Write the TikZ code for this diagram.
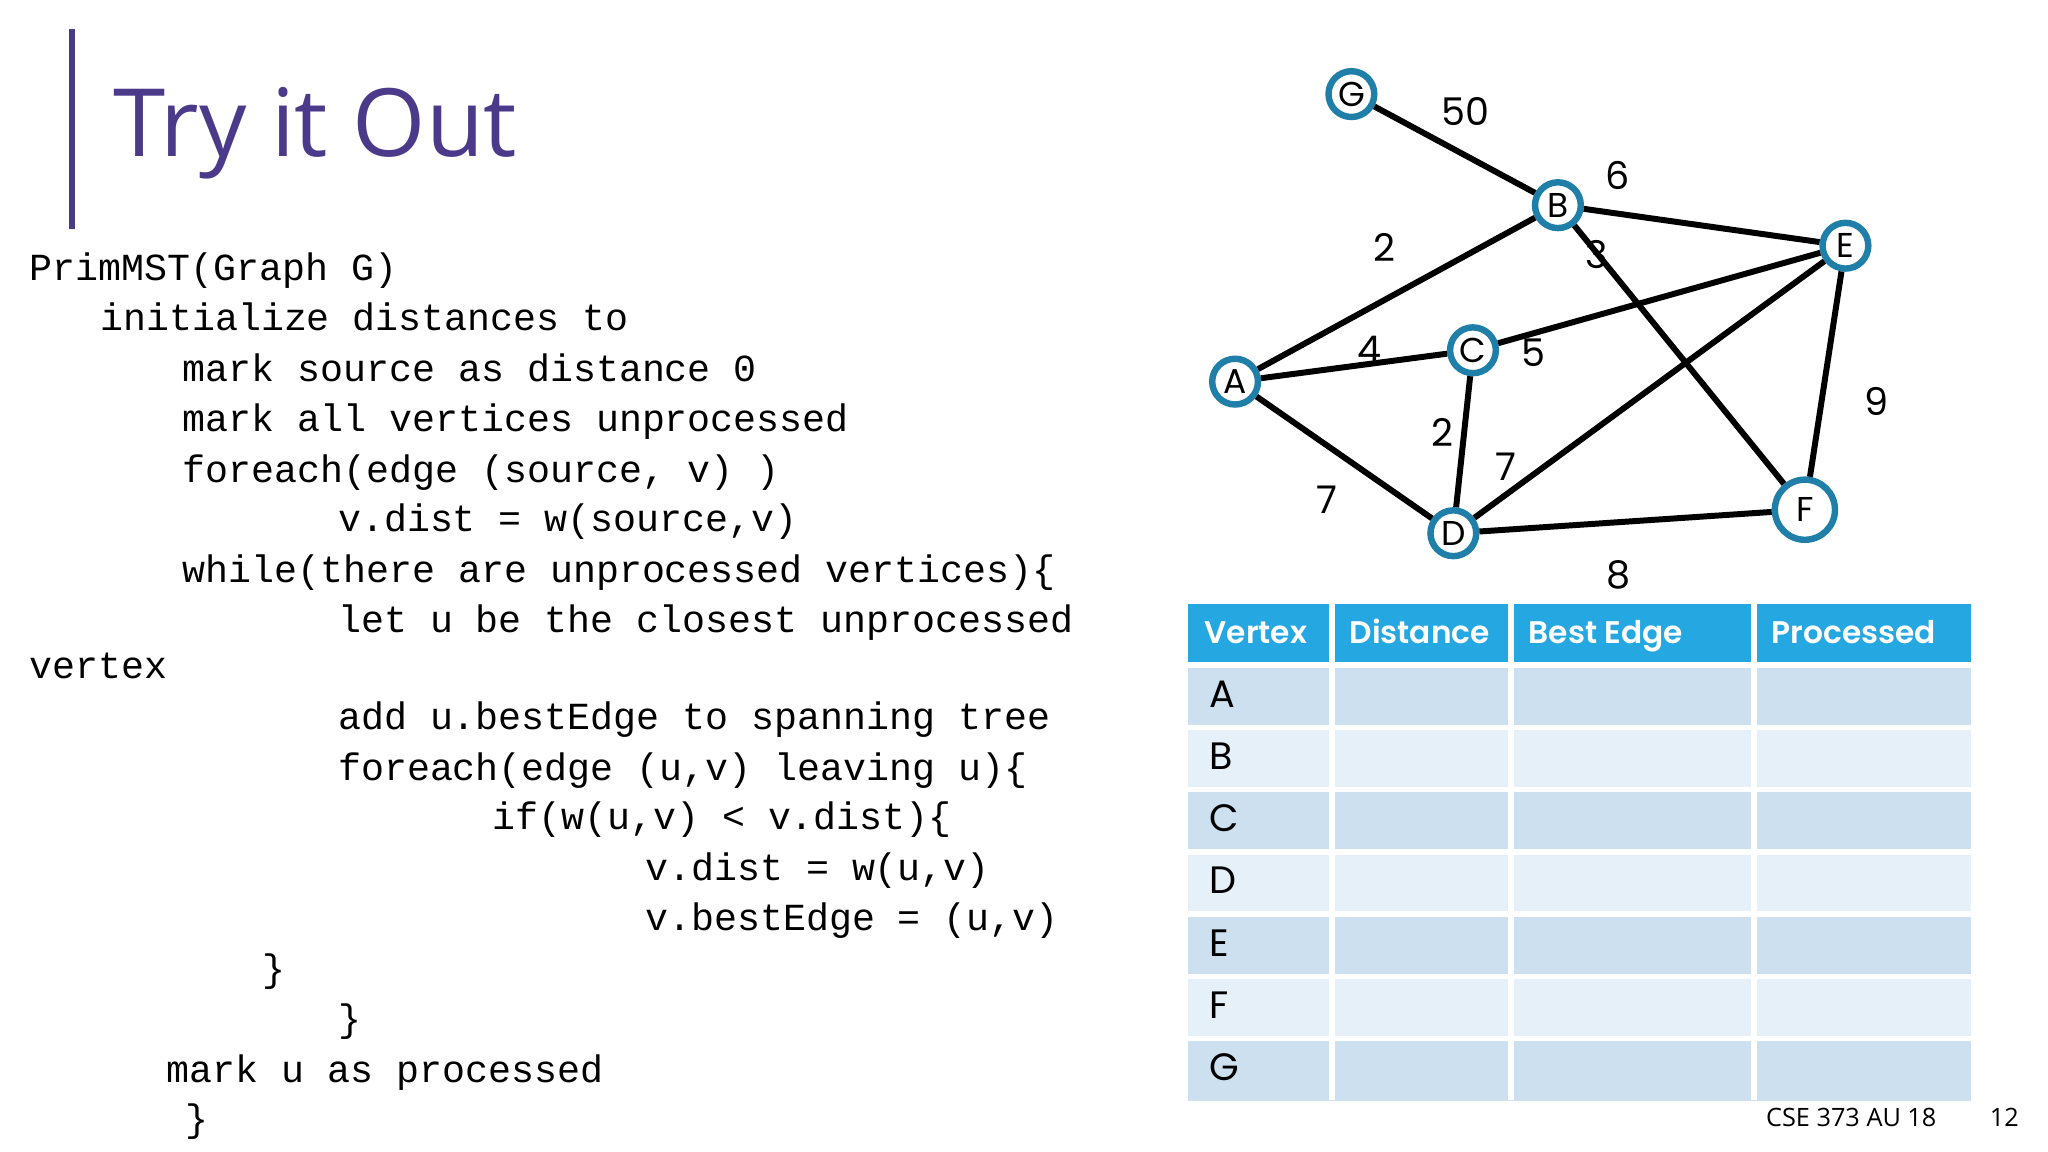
\documentclass[tikz,border=0pt]{standalone}
\usepackage{fontspec}
\setmainfont{Open Sans}
\setmonofont{Liberation Mono}
\newfontfamily\geo{Poppins}
\newfontfamily\geosb{Poppins SemiBold}
\definecolor{titlepurple}{HTML}{4B3A8A}
\definecolor{nodeblue}{HTML}{1F7FA8}
\definecolor{headcyan}{HTML}{25A7E1}
\definecolor{rowa}{HTML}{CCE0F0}
\definecolor{rowb}{HTML}{E6F0F8}
\begin{document}
\begin{tikzpicture}[x=0.01cm,y=-0.01cm,
  vtx/.style={circle,draw=nodeblue,line width=1.4pt,fill=white,minimum size=0.35cm,inner sep=0pt,font=\geo\fontsize{7.5}{9}\selectfont},
  edge/.style={line width=1.3pt,black},
  wlab/.style={font=\geo\fontsize{8.3}{10}\selectfont},
  code/.style={anchor=base west,inner sep=0pt,font=\ttfamily\fontsize{8.33}{10}\selectfont},
  hdr/.style={anchor=base west,inner sep=0pt,text=white,font=\geosb\fontsize{6.8}{10}\selectfont},
  rl/.style={anchor=west,font=\geo\fontsize{8.3}{10}\selectfont}]
\useasboundingbox (0,0) rectangle (1567,881.4);
\fill[white] (0,0) rectangle (1567,881.4);
% title
\draw[titlepurple,line width=1.2pt] (55,22) -- (55,175);
\node[anchor=base west,inner sep=0pt,text=titlepurple,font=\fontsize{20.5}{24}\selectfont] (title) at (86,120) {Try it Out};
% code
\node[code] (c1) at (22,215) {PrimMST(Graph G)};
\node[code] (c2) at (76,253) {initialize distances to};
\node[code] (c3) at (139,292) {mark source as distance 0};
\node[code] (c4) at (139,330) {mark all vertices unprocessed};
\node[code] (c5) at (139,369) {foreach(edge (source, v) )};
\node[code] (c6) at (258,407) {v.dist = w(source,v)};
\node[code] (c7) at (139,446) {while(there are unprocessed vertices)\{};
\node[code] (c8) at (258,484) {let u be the closest unprocessed};
\node[code] (c9) at (22,519) {vertex};
\node[code] (c10) at (258,558) {add u.bestEdge to spanning tree};
\node[code] (c11) at (258,597) {foreach(edge (u,v) leaving u)\{};
\node[code] (c12) at (376,635) {if(w(u,v) < v.dist)\{};
\node[code] (c13) at (493,674) {v.dist = w(u,v)};
\node[code] (c14) at (493,712) {v.bestEdge = (u,v)};
\node[code] (c15) at (200,751) {\}};
\node[code] (c16) at (258,789) {\}};
\node[code] (c17) at (127,828) {mark u as processed};
\node[code] (c18) at (141,866) {\}};
% graph
\node[vtx] (G) at (1034,72) {G};
\node[vtx] (B) at (1192,157) {B};
\node[vtx] (E) at (1412,188) {E};
\node[vtx] (A) at (945,292) {A};
\node[vtx] (C) at (1127,268) {C};
\node[vtx] (D) at (1112,408) {D};
\node[vtx,minimum size=0.46cm] (F) at (1381,390) {F};
\draw[edge] (G) -- (B);
\draw[edge] (B) -- (E);
\draw[edge] (B) -- (A);
\draw[edge] (B) -- (F);
\draw[edge] (A) -- (C);
\draw[edge] (C) -- (E);
\draw[edge] (A) -- (D);
\draw[edge] (C) -- (D);
\draw[edge] (D) -- (E);
\draw[edge] (D) -- (F);
\draw[edge] (E) -- (F);
\node[wlab] (w1) at (1121,85) {50};
\node[wlab] (w2) at (1238,134) {6};
\node[wlab] (w3) at (1059,189) {2};
\node[wlab] (w4) at (1222,195) {3};
\node[wlab] (w5) at (1048,268) {4};
\node[wlab] (w6) at (1173,270) {5};
\node[wlab] (w7) at (1436,307) {9};
\node[wlab] (w8) at (1104,331) {2};
\node[wlab] (w9) at (1152,357) {7};
\node[wlab] (w10) at (1015,382) {7};
\node[wlab] (w11) at (1238,440) {8};
% table
\fill[headcyan] (909,462) rectangle (1508,507);
\foreach \i/\c in {0/rowa,1/rowb,2/rowa,3/rowb,4/rowa,5/rowb,6/rowa}
  \fill[\c] (909,{509+\i*47.6}) rectangle (1508,{509+(\i+1)*47.6});
\foreach \i in {0,...,6}
  \draw[white,line width=1.2pt] (909,{509+\i*47.6}) -- (1508,{509+\i*47.6});
\foreach \x in {1019,1156,1342}
  \draw[white,line width=1.2pt] (\x,462) -- (\x,842);
\node[hdr] (h1) at (921,492) {Vertex};
\node[hdr] (h2) at (1032,492) {Distance};
\node[hdr] (h3) at (1169,492) {Best Edge};
\node[hdr] (h4) at (1355,492) {Processed};
\foreach \i/\l in {0/A,1/B,2/C,3/D,4/E,5/F,6/G}
  \node[rl] (r\l) at (913,{531+\i*47.6}) {\l};
% footer
\node[anchor=base east,font=\fontsize{5.5}{7}\selectfont] (foot) at (1494,862) {CSE 373 AU 18};
\node[anchor=base east,font=\fontsize{5.5}{7}\selectfont] (pg) at (1557,862) {12};
\end{tikzpicture}
\end{document}
